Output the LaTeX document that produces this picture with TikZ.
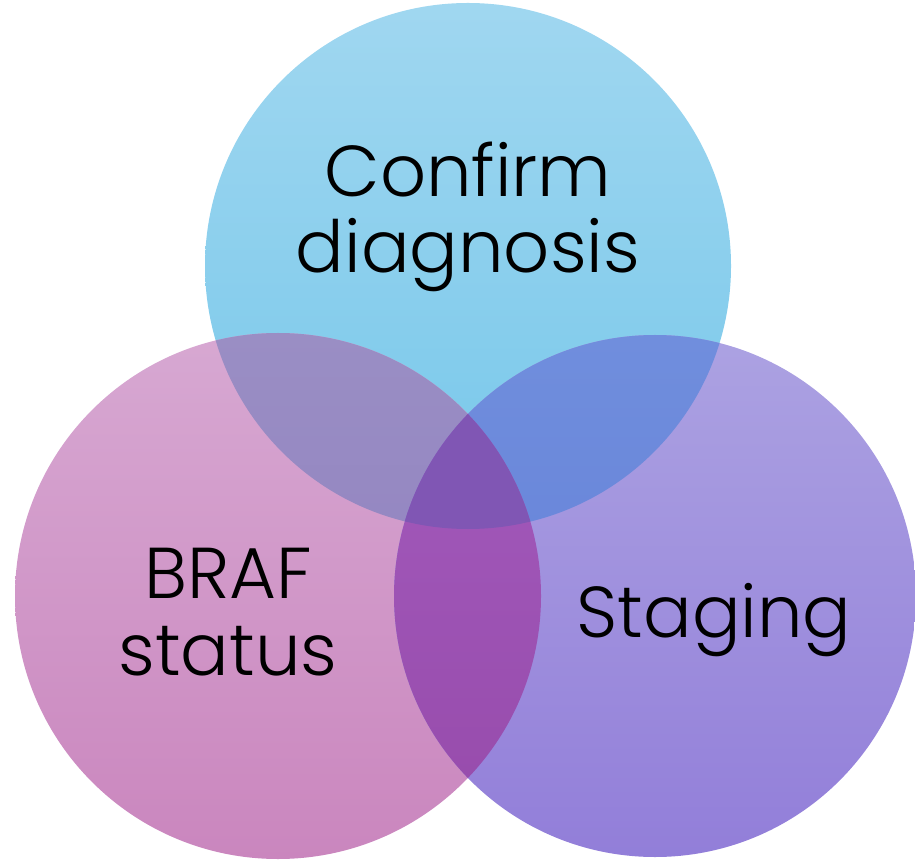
\documentclass[tikz,border=0pt]{standalone}
\usepackage{fontspec}
\setmainfont{Poppins}[UprightFont=* Light]
\usetikzlibrary{positioning}

\definecolor{diagTop}{RGB}{160,215,240}
\definecolor{diagBot}{RGB}{118,199,234}
\definecolor{brafTop}{RGB}{215,168,210}
\definecolor{brafBot}{RGB}{202,134,190}
\definecolor{stagTop}{RGB}{172,162,226}
\definecolor{stagBot}{RGB}{146,126,217}
\definecolor{dbTop}{RGB}{154,142,196}
\definecolor{dbBot}{RGB}{140,124,190}
\definecolor{dsTop}{RGB}{112,142,221}
\definecolor{dsBot}{RGB}{96,124,214}
\definecolor{bsTop}{RGB}{164,92,190}
\definecolor{bsBot}{RGB}{150,74,170}
\definecolor{midFill}{RGB}{128,86,180}

\begin{document}
\begin{tikzpicture}[
    x=0.02cm, y=0.02cm,
    label/.style ={align=center, text=black, font=\fontsize{41}{43.5}\selectfont},
]
\useasboundingbox (0,0) rectangle (915,859);

% Centres
\coordinate (diag) at (468,593);
\coordinate (braf) at (278,263);
\coordinate (stag) at (655,263);

% Circles
\shade [top color=diagTop, bottom color=diagBot] (diag) circle [radius=263];
\shade [top color=brafTop, bottom color=brafBot] (braf) circle [radius=263];
\shade [top color=stagTop, bottom color=stagBot] (stag) circle [radius=261];

% Overlaps
\begin{scope}
  \clip (diag) circle [radius=263];
  \shade [top color=dbTop, bottom color=dbBot] (braf) circle [radius=263];
  \shade [top color=dsTop, bottom color=dsBot] (stag) circle [radius=261];
\end{scope}
\begin{scope}
  \clip (braf) circle [radius=263];
  \shade [top color=bsTop, bottom color=bsBot] (stag) circle [radius=261];
  \clip (diag) circle [radius=263];
  \fill [midFill] (stag) circle [radius=261];
\end{scope}

% Labels
\node [label] (confirm) at (468,642) {Confirm\\diagnosis};
\node [label] (status) at (228,247) {BRAF\\status};
\node [label] (staging) at (714,239) {Staging};

\end{tikzpicture}
\end{document}
